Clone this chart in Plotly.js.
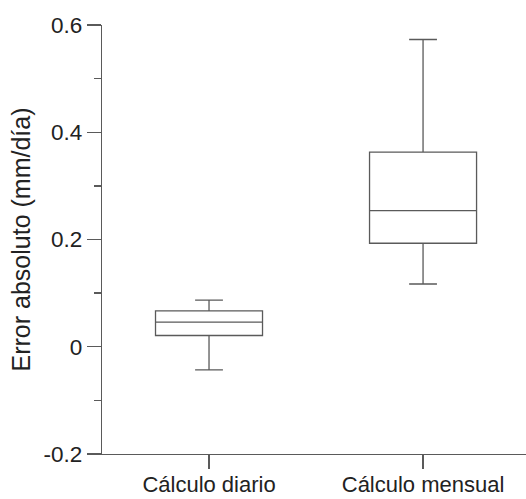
<!DOCTYPE html>
<html>
<head>
<meta charset="utf-8">
<script src="https://cdn.plot.ly/plotly-3.0.1.min.js"></script>
<style>html,body{margin:0;padding:0;background:#fff;}#chart{width:526px;height:499px;}</style>
</head>
<body>
<div id="chart"></div>
<script>
var categories = ["Cálculo diario", "Cálculo mensual"];
var lowerWhisker = [-0.043, 0.117];
var q1Values = [0.021, 0.193];
var medianValues = [0.046, 0.254];
var q3Values = [0.067, 0.363];
var upperWhisker = [0.087, 0.573];
var yTickValues = [-0.2, 0, 0.2, 0.4, 0.6];
var yTickLabels = ["-0.2", "0", "0.2", "0.4", "0.6"];

var lineColor = "#5a5a5a";
var textColor = "#222222";
var fontFamily = "Liberation Sans, Arial, sans-serif";

var trace = {
  type: "box",
  x: categories,
  q1: q1Values,
  median: medianValues,
  q3: q3Values,
  lowerfence: lowerWhisker,
  upperfence: upperWhisker,
  boxpoints: false,
  fillcolor: "rgba(255,255,255,0)",
  line: {color: lineColor, width: 1.3},
  whiskerwidth: 0.26,
  width: 0.5,
  hoverinfo: "skip",
  showlegend: false
};

var layout = {
  width: 526,
  height: 499,
  margin: {l: 102, r: 0, t: 25, b: 45},
  paper_bgcolor: "#ffffff",
  plot_bgcolor: "#ffffff",
  font: {family: fontFamily, color: textColor, size: 22.5},
  xaxis: {
    type: "category",
    range: [-0.5, 1.481],
    showline: true,
    linecolor: lineColor,
    linewidth: 1.3,
    ticks: "outside",
    ticklen: 14,
    tickwidth: 1.3,
    tickcolor: lineColor,
    ticklabelstandoff: -4,
    showgrid: false,
    zeroline: false,
    tickfont: {family: fontFamily, size: 22, color: textColor}
  },
  yaxis: {
    range: [-0.2, 0.6],
    tickvals: yTickValues,
    ticktext: yTickLabels,
    showline: true,
    linecolor: lineColor,
    linewidth: 1.3,
    ticks: "outside",
    ticklen: 14,
    tickwidth: 1.3,
    tickcolor: lineColor,
    minor: {dtick: 0.1, ticks: "outside", ticklen: 7, tickwidth: 1.3, tickcolor: lineColor, showgrid: false},
    showgrid: false,
    zeroline: false,
    tickfont: {family: fontFamily, size: 22.5, color: textColor},
    title: {text: "Error absoluto (mm/día)", font: {family: fontFamily, size: 25, color: textColor}, standoff: 5}
  }
};

Plotly.newPlot("chart", [trace], layout, {displayModeBar: false, staticPlot: true});
</script>
</body>
</html>
